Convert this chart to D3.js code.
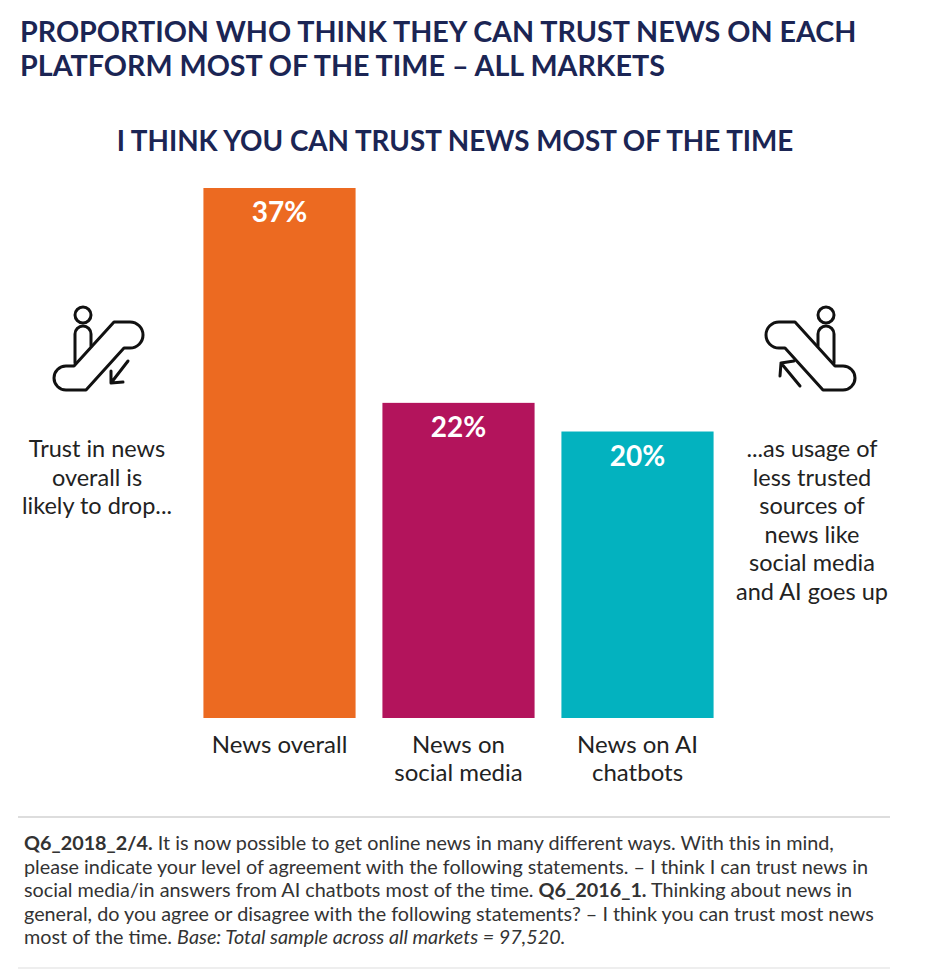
<!DOCTYPE html>
<html><head><meta charset="utf-8">
<script src="https://cdn.jsdelivr.net/npm/d3@7"></script>
<style>body{margin:0;background:#fff}</style>
</head><body><div id="chart"></div>
<script>
const categories = [['News overall'], ['News on', 'social media'], ['News on AI', 'chatbots']];
const values = [37, 22, 20];
const colors = ['#ec6a21', '#b3145c', '#03b2bf'];

const width = 936, height = 976;
const navy = '#1b2554';
const font = 'Lato, "Open Sans", sans-serif';

const svg = d3.select('#chart').append('svg')
    .attr('width', width).attr('height', height)
    .style('font-family', font);

svg.append('text').attr('x', 20).attr('y', 42).attr('fill', navy)
    .attr('font-size', 28.7).attr('font-weight', 700)
    .text('PROPORTION WHO THINK THEY CAN TRUST NEWS ON EACH');
svg.append('text').attr('x', 20).attr('y', 76).attr('fill', navy)
    .attr('font-size', 28.7).attr('font-weight', 700)
    .text('PLATFORM MOST OF THE TIME – ALL MARKETS');
svg.append('text').attr('x', 455).attr('y', 151).attr('fill', navy)
    .attr('text-anchor', 'middle').attr('font-size', 27.8).attr('font-weight', 700)
    .text('I THINK YOU CAN TRUST NEWS MOST OF THE TIME');

const x = d3.scaleBand().domain(d3.range(values.length)).range([190, 727]).paddingInner(0.15).paddingOuter(0.075);
const y = d3.scaleLinear().domain([0, 37]).range([718, 188]);

svg.selectAll('.bar').data(values).enter().append('rect')
    .attr('x', (d, i) => x(i)).attr('y', d => y(d))
    .attr('width', x.bandwidth()).attr('height', d => y(0) - y(d))
    .attr('fill', (d, i) => colors[i]);

svg.selectAll('.val').data(values).enter().append('text')
    .attr('x', (d, i) => x(i) + x.bandwidth() / 2).attr('y', d => y(d) + 34)
    .attr('text-anchor', 'middle').attr('fill', '#fff')
    .attr('font-size', 28).attr('font-weight', 700)
    .text(d => d + '%');

categories.forEach((lines, i) => {
    lines.forEach((l, j) => {
        svg.append('text').attr('x', x(i) + x.bandwidth() / 2).attr('y', 753 + j * 28)
            .attr('text-anchor', 'middle').attr('fill', '#222').attr('font-size', 24).text(l);
    });
});

function sideText(lines, cx, y0) {
    lines.forEach((l, j) => svg.append('text').attr('x', cx).attr('y', y0 + j * 28.5)
        .attr('text-anchor', 'middle').attr('fill', '#222').attr('font-size', 23.5).text(l));
}
sideText(['Trust in news', 'overall is', 'likely to drop...'], 97, 457);
sideText(['...as usage of', 'less trusted', 'sources of', 'news like', 'social media', 'and AI goes up'], 812, 457);

// escalator icons
const escPath = 'M66,390 L86,390 L124,348 L130,348 A13,13 0 0 0 130,322 L114,322 L74,366 L66,366 A12,12 0 0 0 66,390 Z';
const personPath = 'M75,363 L75,334 A8,8 0 0 1 91,334 L91,346';
function icon(g) {
    g.append('path').attr('d', escPath);
    g.append('path').attr('d', personPath);
    g.append('circle').attr('cx', 83).attr('cy', 315).attr('r', 8);
    g.selectAll('*').attr('fill', 'none').attr('stroke', '#111')
        .attr('stroke-width', 3).attr('stroke-linejoin', 'round').attr('stroke-linecap', 'round');
}
const gl = svg.append('g'); icon(gl);
gl.append('path').attr('d', 'M128,361 L111,383 M111,383 L111,371 M111,383 L123,382')
    .attr('fill', 'none').attr('stroke', '#111').attr('stroke-width', 3).attr('stroke-linecap', 'round');
const gr = svg.append('g').attr('transform', 'translate(909,0) scale(-1,1)'); icon(gr);
svg.append('path').attr('d', 'M800,386 L781,363 M781,363 L794,361 M781,363 L780,376')
    .attr('fill', 'none').attr('stroke', '#111').attr('stroke-width', 3).attr('stroke-linecap', 'round');

// footnote
svg.append('line').attr('x1', 18).attr('x2', 890).attr('y1', 817).attr('y2', 817).attr('stroke', '#bbb');
svg.append('line').attr('x1', 18).attr('x2', 890).attr('y1', 968).attr('y2', 968).attr('stroke', '#ddd');
const notes = [
    [['Q6_2018_2/4.', 'b'], [' It is now possible to get online news in many different ways. With this in mind,', '']],
    [['please indicate your level of agreement with the following statements. – I think I can trust news in', '']],
    [['social media/in answers from AI chatbots most of the time. ', ''], ['Q6_2016_1.', 'b'], [' Thinking about news in', '']],
    [['general, do you agree or disagree with the following statements? – I think you can trust most news', '']],
    [['most of the time. ', ''], ['Base: Total sample across all markets = 97,520.', 'i']]
];
notes.forEach((parts, j) => {
    const t = svg.append('text').attr('x', 24).attr('y', 850 + j * 23.5)
        .attr('fill', '#333').attr('font-size', 19.8);
    parts.forEach(p => t.append('tspan').text(p[0])
        .attr('font-weight', p[1] === 'b' ? 700 : 400)
        .attr('font-style', p[1] === 'i' ? 'italic' : 'normal'));
});
</script></body></html>
